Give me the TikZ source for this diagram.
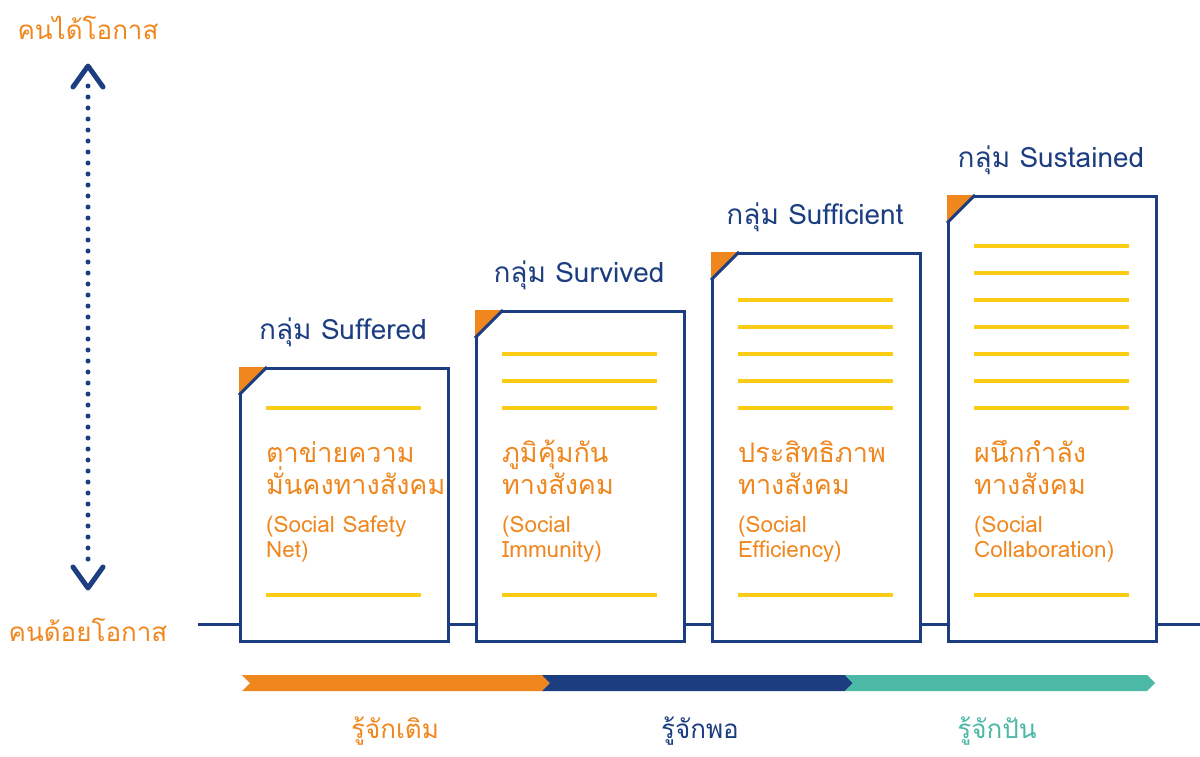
\documentclass[tikz,border=0pt]{standalone}
\usepackage{fontspec}
\setmainfont[Script=Thai]{Loma}
\definecolor{navy}{RGB}{28,62,128}
\definecolor{orng}{RGB}{240,135,30}
\definecolor{teal2}{RGB}{76,184,166}
\definecolor{ylw}{RGB}{250,204,20}
\tikzset{
  cardbox/.style={draw=navy, line width=3pt, fill=white, minimum width=208pt, inner sep=0pt, anchor=north west},
  title/.style={text=navy, font=\fontsize{28}{28}\selectfont, anchor=base},
  thaitxt/.style={text=orng, font=\fontsize{27}{27}\selectfont, anchor=base west, inner sep=0pt},
  engtxt/.style={text=orng, font=\fontsize{22.5}{22.5}\selectfont, anchor=base west, inner sep=0pt},
  yline/.style={draw=ylw, line width=3.5pt},
  dotline/.style={draw=navy, line width=5pt, line cap=round, dash pattern=on 0pt off 11pt},
  chev/.style={draw=navy, line width=5pt, line cap=round, line join=round},
  axlabel/.style={text=orng, font=\fontsize{26}{26}\selectfont},
  botlabel/.style={font=\fontsize{26}{26}\selectfont, anchor=base}
}
\begin{document}
\begin{tikzpicture}[x=1pt,y=-1pt]
\useasboundingbox (0,0) rectangle (1200,756);
% baseline
\coordinate (bl0) at (198,624);
\coordinate (bl1) at (1200,624);
\draw[navy, line width=3pt] (bl0) -- (bl1);
% axis
\node[axlabel] (top) at (88,28) {คนได้โอกาส};
\node[axlabel] (bot) at (88,630) {คนด้อยโอกาส};
\coordinate (at) at (88,66);
\coordinate (ab) at (88,588);
\draw[dotline] (88,86) -- (88,570);
\draw[chev] ([xshift=-15pt,yshift=-21pt]at) -- (at) -- ([xshift=15pt,yshift=-21pt]at);
\draw[chev] ([xshift=-15pt,yshift=21pt]ab) -- (ab) -- ([xshift=15pt,yshift=21pt]ab);
% cards
\foreach \n/\x/\y/\t in {1/239/367/Suffered,2/475/310/Survived,3/711/252/Sufficient,4/947/195/Sustained}{
  \pgfmathsetmacro{\h}{640-\y}
  \node[cardbox, minimum height=\h pt] (c\n) at (\x,\y) {};
  \fill[orng] (c\n.north west) -- ++(28,0) -- ++(-28,28) -- cycle;
  \draw[navy, line width=3pt] ([xshift=28pt]c\n.north west) -- ([yshift=-28pt]c\n.north west);
  \node[title] (t\n) at (\x+104,\y-28) {กลุ่ม \t};
  \draw[yline] (\x+27,408) -- (\x+182,408);
  \draw[yline] (\x+27,595) -- (\x+182,595);
}
\foreach \x in {475,711,947}{
  \draw[yline] (\x+27,354) -- (\x+182,354);
  \draw[yline] (\x+27,381) -- (\x+182,381);
}
\foreach \x in {711,947}{
  \draw[yline] (\x+27,300) -- (\x+182,300);
  \draw[yline] (\x+27,327) -- (\x+182,327);
}
\draw[yline] (974,246) -- (1129,246);
\draw[yline] (974,273) -- (1129,273);
% card texts
\node[thaitxt] (a1) at (266,462) {ตาข่ายความ};
\node[thaitxt] (a2) at (266,494) {มั่นคงทางสังคม};
\node[engtxt] (a3) at (266,532) {(Social Safety};
\node[engtxt] (a4) at (266,557) {Net)};
\node[thaitxt] (b1) at (502,462) {ภูมิคุ้มกัน};
\node[thaitxt] (b2) at (502,494) {ทางสังคม};
\node[engtxt] (b3) at (502,532) {(Social};
\node[engtxt] (b4) at (502,557) {Immunity)};
\node[thaitxt] (d1) at (738,462) {ประสิทธิภาพ};
\node[thaitxt] (d2) at (738,494) {ทางสังคม};
\node[engtxt] (d3) at (738,532) {(Social};
\node[engtxt] (d4) at (738,557) {Efficiency)};
\node[thaitxt] (e1) at (974,462) {ผนึกกำลัง};
\node[thaitxt] (e2) at (974,494) {ทางสังคม};
\node[engtxt] (e3) at (974,532) {(Social};
\node[engtxt] (e4) at (974,557) {Collaboration)};
% progress bar
\fill[orng] (242,675) -- (542,675) -- (550,683) -- (542,691) -- (242,691) -- (250,683) -- cycle;
\fill[navy] (542,675) -- (845,675) -- (853,683) -- (845,691) -- (542,691) -- (550,683) -- cycle;
\fill[teal2] (845,675) -- (1147,675) -- (1155,683) -- (1147,691) -- (845,691) -- (853,683) -- cycle;
\node[botlabel, text=orng] (l1) at (395,738) {รู้จักเติม};
\node[botlabel, text=navy] (l2) at (700,738) {รู้จักพอ};
\node[botlabel, text=teal2] (l3) at (997,738) {รู้จักปัน};
\end{tikzpicture}
\end{document}
